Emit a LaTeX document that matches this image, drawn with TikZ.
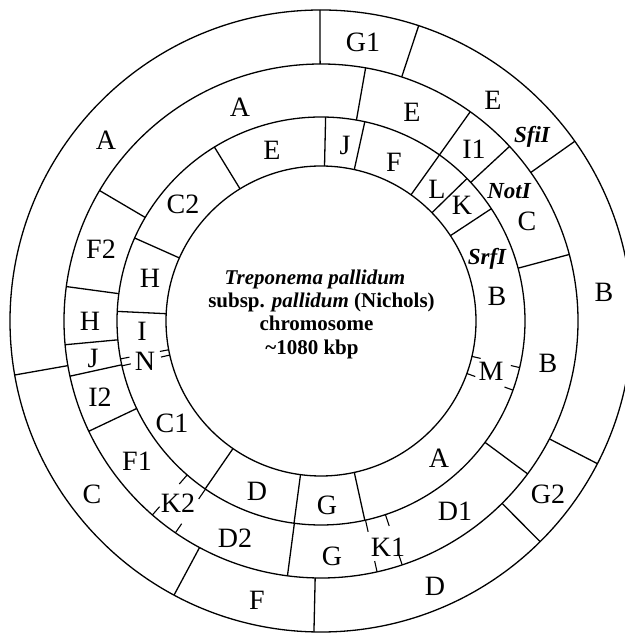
\documentclass[tikz,border=0pt]{standalone}
\usepackage{fontspec}
\setmainfont{Liberation Serif}
\begin{document}
\begin{tikzpicture}[x=1pt,y=1pt,line width=1.3pt,
  lab/.style={font=\fontsize{28}{30}\selectfont,inner sep=0pt,text height=18.5pt,text depth=0pt},
  enz/.style={font=\fontsize{23}{25}\selectfont\bfseries\itshape,inner sep=0pt,text height=15.4pt,text depth=0pt},
  ttl/.style={font=\fontsize{21}{23}\selectfont\bfseries,inner sep=0pt,anchor=base},
  tick/.style={line width=1.1pt}]
\useasboundingbox (0,0) rectangle (624,634);
\coordinate (O) at (321,313);
\begin{scope}[shift={(O)}]
  % circles
  \foreach \r in {155,204,257,311} \draw (0,0) circle[radius=\r pt];
  % outer ring boundaries
  \foreach \a in {90.2,71.7,35.3,-27.3,-45.2,-91.3,-118.2,-170}
    \draw (\a:257) -- (\a:311);
  % middle ring boundaries
  \foreach \a in {149.5,80,54.5,42.8,15,-36.5,-97.5,-154.6,-167.6,-174.7,172.3}
    \draw (\a:204) -- (\a:257);
  % inner ring boundaries
  \foreach \a in {121.5,88.7,77.6,54.5,44.3,33.4,-77.6,-97.6,-124.6,177.3,156}
    \draw (\a:155) -- (\a:204);
  % tick marks (K1, K2)
  \foreach \a in {-77.4,-71.6,-131,-124.5}{
    \draw[tick] (\a:204) -- (\a:216);
    \draw[tick] (\a:257) -- (\a:246);}
  % tick marks (M, N)
  \foreach \a in {-13.2,-19.8,-169.3,-167.3}{
    \draw[tick] (\a:155) -- (\a:164);
    \draw[tick] (\a:204) -- (\a:195);}
\end{scope}
% outer ring labels
\node[lab] (oG1) at (363,592) {G1};
\node[lab] (oE)  at (493,534) {E};
\node[enz] (sfi) at (532,499) {SfiI};
\node[lab] (oB)  at (604,342) {B};
\node[lab] (oG2) at (548,140) {G2};
\node[lab] (oD)  at (435,48) {D};
\node[lab] (oF)  at (257,34) {F};
\node[lab] (oC)  at (92,140) {C};
\node[lab] (oA)  at (106,494) {A};
% middle ring labels
\node[lab] (mA)  at (240,527) {A};
\node[lab] (mE)  at (412,522) {E};
\node[lab] (mI1) at (474,485) {I1};
\node[enz] (not) at (509,443) {NotI};
\node[lab] (mC)  at (527,413) {C};
\node[lab] (mB)  at (548,271) {B};
\node[lab] (mD1) at (455,123) {D1};
\node[lab] (mK1) at (388,87) {K1};
\node[lab] (mG)  at (332,78) {G};
\node[lab] (mD2) at (235,96) {D2};
\node[lab] (mK2) at (178,131) {K2};
\node[lab] (mF1) at (137,173) {F1};
\node[lab] (mI2) at (100,237) {I2};
\node[lab] (mJ)  at (93,276) {J};
\node[lab] (mH)  at (90,313) {H};
\node[lab] (mF2) at (101,385) {F2};
% inner ring labels
\node[lab] (iE)  at (272,484) {E};
\node[lab] (iJ)  at (345,489) {J};
\node[lab] (iF)  at (394,472) {F};
\node[lab] (iL)  at (437,445) {L};
\node[lab] (iK)  at (462,429) {K};
\node[enz] (srf) at (487,377) {SrfI};
\node[lab] (iB)  at (497,338) {B};
\node[lab] (iM)  at (491,263) {M};
\node[lab] (iA)  at (439,176) {A};
\node[lab] (iG)  at (327,129) {G};
\node[lab] (iD)  at (257,143) {D};
\node[lab] (iC1) at (172,211) {C1};
\node[lab] (iN)  at (145,273) {N};
\node[lab] (iI)  at (142,303) {I};
\node[lab] (iH)  at (150,356) {H};
\node[lab] (iC2) at (183,430) {C2};
% title
\node[ttl] (t1) at (315,349) {\itshape Treponema pallidum};
\node[ttl] (t2) at (321.5,326) {subsp. \textit{pallidum} (Nichols)};
\node[ttl] (t3) at (316.5,303) {chromosome};
\node[ttl] (t4) at (312,279) {\textasciitilde1080 kbp};
\end{tikzpicture}
\end{document}
